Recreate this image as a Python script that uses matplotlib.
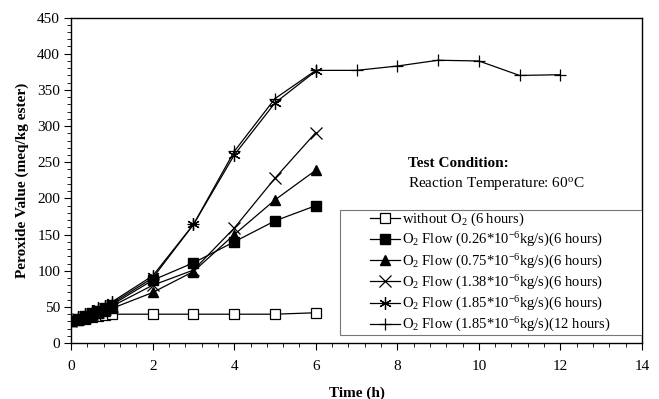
import numpy as np
import matplotlib
matplotlib.use("Agg")
import matplotlib.pyplot as plt
from matplotlib.ticker import MultipleLocator
from matplotlib.patches import Rectangle

plt.rcParams['font.family'] = ['Liberation Serif', 'DejaVu Serif']
plt.rcParams['mathtext.fontset'] = 'custom'
plt.rcParams['mathtext.rm'] = 'Liberation Serif'
plt.rcParams['mathtext.it'] = 'Liberation Serif:italic'
plt.rcParams['mathtext.default'] = 'regular'

# sampling times (h)
t_6h = [0, 0.17, 0.33, 0.5, 0.67, 0.83, 1, 2, 3, 4, 5, 6]
t_12h = [0, 0.17, 0.33, 0.5, 0.67, 0.83, 1, 2, 3, 4, 5, 6, 7, 8, 9, 10, 11, 12]

# peroxide value (meq/kg ester)
pv_no_o2 = [30, 32, 34, 36, 38, 39, 40, 40, 40, 40, 40, 42]
pv_026 = [31, 34, 37, 41, 45, 49, 53, 87, 111, 140, 169, 190]
pv_075 = [30, 32, 35, 38, 41, 44, 48, 70, 99, 150, 198, 239]
pv_138 = [31, 33, 36, 40, 43, 47, 51, 80, 101, 159, 228, 291]
pv_185_6h = [32, 36, 40, 44, 48, 52, 57, 93, 164, 260, 332, 376]
pv_185_12h = [32, 35, 39, 43, 47, 51, 55, 90, 164, 265, 338, 377,
              377, 383, 391, 390, 370, 371]

labels = [
    'without O$_2$ (6 hours)',
    'O$_2$ Flow (0.26*10$^{-6}$kg/s)(6 hours)',
    'O$_2$ Flow (0.75*10$^{-6}$kg/s)(6 hours)',
    'O$_2$ Flow (1.38*10$^{-6}$kg/s)(6 hours)',
    'O$_2$ Flow (1.85*10$^{-6}$kg/s)(6 hours)',
    'O$_2$ Flow (1.85*10$^{-6}$kg/s)(12 hours)',
]

fig = plt.figure(figsize=(6.59, 3.99), dpi=100)
ax = fig.add_axes([0.108, 0.14, 0.866, 0.816])

lw = 0.9
ax.plot(t_6h, pv_no_o2, '-', color='black', lw=lw, marker='s', ms=7,
        mfc='white', mec='black', mew=0.9, label=labels[0])
ax.plot(t_6h, pv_026, '-', color='black', lw=lw, marker='s', ms=7,
        mfc='black', mec='black', label=labels[1])
ax.plot(t_6h, pv_075, '-', color='black', lw=lw, marker='^', ms=7.5,
        mfc='black', mec='black', label=labels[2])
ax.plot(t_6h, pv_138, '-', color='black', lw=lw, marker='x', ms=8,
        mew=0.9, label=labels[3])
ax.plot(t_6h, pv_185_6h, '-', color='black', lw=lw, marker=(6, 2, 0), ms=9,
        mew=0.9, label=labels[4])
ax.plot(t_12h, pv_185_12h, '-', color='black', lw=lw, marker='+', ms=9,
        mew=0.9, label=labels[5])

ax.set_xlim(0, 14)
ax.set_ylim(0, 450)
ax.xaxis.set_major_locator(MultipleLocator(2))
ax.xaxis.set_minor_locator(MultipleLocator(0.4))
ax.yaxis.set_major_locator(MultipleLocator(50))
ax.yaxis.set_minor_locator(MultipleLocator(10))
ax.tick_params(axis='both', which='major', labelsize=11, length=5, width=0.8,
               direction='out', pad=7)
ax.tick_params(axis='y', which='major', pad=3)
ax.tick_params(axis='both', which='minor', length=3, width=0.6, direction='out')
for s in ax.spines.values():
    s.set_linewidth(1.0)

ax.set_xlabel('Time (h)', fontsize=11, fontweight='bold', labelpad=10)
ax.set_ylabel('Peroxide Value (meq/kg ester)', fontsize=11, fontweight='bold',
              labelpad=6)

ax.text(8.26, 248, 'Test Condition:', fontsize=11, fontweight='bold',
        va='center', ha='left')
ax.text(8.26, 221, 'Reaction Temperature: 60$^{o}$C', fontsize=11,
        va='center', ha='left')

# legend box drawn separately so the entries sit centred with wide margins
ax.add_patch(Rectangle((0.471, 0.025), 0.529, 0.384, transform=ax.transAxes,
                       facecolor='white', edgecolor='#777777', lw=0.8,
                       zorder=4))
leg = ax.legend(loc='center', bbox_to_anchor=(0.735, 0.217), fontsize=10.5,
                frameon=False, handlelength=2.0, handletextpad=0.2,
                labelspacing=0.2, borderpad=0.0)
leg.set_zorder(5)

fig.savefig('out.png', dpi=100)
